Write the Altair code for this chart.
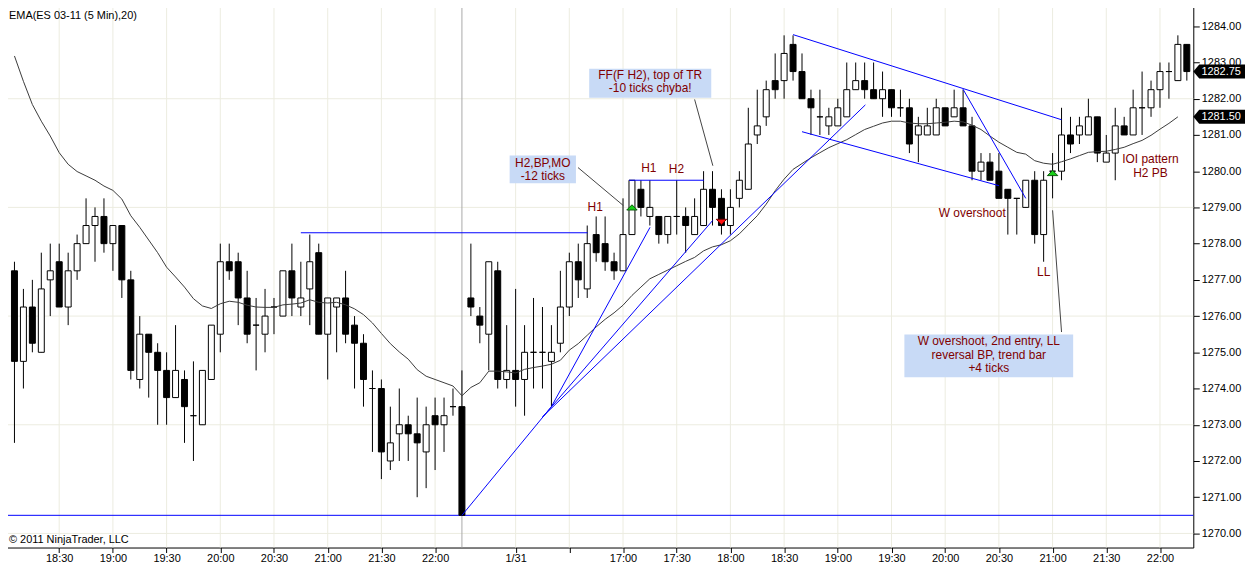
import altair as alt
import pandas as pd

FONT = "Liberation Sans"
MAROON = "#800000"

# ---------------- price bars (5-min, bar index 1..132) ----------------
bar_index = list(range(1, 133))
opens = [1277.25, 1274.75, 1276.25, 1275.0, 1277.0, 1277.5, 1276.25, 1277.25, 1278.0, 1278.5,
         1278.75, 1278.0, 1278.5, 1277.0, 1274.25, 1275.5, 1275.0, 1274.5, 1273.75, 1274.25,
         1273.25, 1273.0, 1274.25, 1275.5, 1277.5, 1277.5, 1276.5, 1275.75, 1275.5, 1276.25,
         1276.0, 1277.25, 1276.25, 1276.75, 1277.75, 1275.5, 1276.25, 1276.5, 1275.75, 1275.25,
         1274.0, 1274.0, 1272.0, 1272.75, 1273.0, 1272.75, 1272.25, 1273.25, 1273.0, 1273.5,
         1273.5, 1276.5, 1276.0, 1275.5, 1277.25, 1274.25, 1274.5, 1274.25, 1275.0, 1275.0,
         1274.75, 1275.25, 1276.25, 1277.5, 1276.75, 1278.25, 1278.0, 1277.5, 1277.25, 1278.25,
         1279.5, 1278.75, 1278.75, 1278.25, 1278.75, 1278.75, 1278.25, 1278.5, 1279.5, 1279.25,
         1278.5, 1279.25, 1279.5, 1281.0, 1281.5, 1282.5, 1282.5, 1283.5, 1282.75, 1282.0,
         1281.5, 1281.25, 1281.25, 1281.5, 1282.25, 1282.5, 1282.25, 1282.0, 1282.25, 1281.75,
         1281.75, 1281.0, 1281.0, 1281.0, 1281.75, 1281.5, 1281.75, 1281.25, 1280.0, 1280.25,
         1280.0, 1279.5, 1279.25, 1279.0, 1279.75, 1278.25, 1280.0, 1280.0, 1281.0, 1281.0,
         1281.0, 1281.5, 1280.25, 1280.5, 1281.25, 1281.0, 1281.75, 1281.75, 1282.25, 1282.75,
         1282.5, 1283.5]
highs = [1277.5, 1276.75, 1277.0, 1277.75, 1278.0, 1278.0, 1277.75, 1278.25, 1279.25, 1279.0,
         1279.25, 1278.5, 1278.5, 1277.25, 1276.0, 1275.5, 1275.25, 1275.0, 1275.75, 1274.5,
         1274.75, 1274.5, 1275.75, 1278.0, 1278.0, 1277.75, 1277.25, 1276.5, 1276.75, 1276.5,
         1277.25, 1278.0, 1277.5, 1278.25, 1278.0, 1276.5, 1276.5, 1277.25, 1276.0, 1275.5,
         1274.5, 1274.25, 1273.5, 1274.0, 1273.25, 1273.75, 1273.5, 1273.75, 1273.75, 1274.0,
         1274.5, 1278.0, 1276.25, 1277.5, 1277.5, 1275.75, 1276.75, 1275.75, 1276.5, 1276.25,
         1275.75, 1277.25, 1277.75, 1278.0, 1278.5, 1278.75, 1278.75, 1277.75, 1279.25, 1279.75,
         1279.75, 1279.75, 1278.75, 1278.75, 1279.75, 1279.0, 1279.25, 1280.0, 1280.0, 1279.5,
         1279.5, 1280.0, 1281.75, 1282.25, 1282.5, 1283.25, 1283.75, 1283.75, 1283.25, 1282.25,
         1282.25, 1281.75, 1282.0, 1283.0, 1283.0, 1283.0, 1283.0, 1282.75, 1282.25, 1282.25,
         1282.0, 1281.5, 1281.75, 1282.0, 1281.75, 1282.25, 1282.25, 1281.5, 1280.5, 1280.5,
         1280.5, 1279.5, 1279.25, 1279.75, 1280.0, 1280.0, 1280.5, 1281.75, 1281.5, 1281.5,
         1282.0, 1281.5, 1281.0, 1281.75, 1281.5, 1282.25, 1282.75, 1282.5, 1283.0, 1283.0,
         1283.75, 1283.5]
lows = [1272.5, 1274.0, 1275.0, 1275.0, 1276.0, 1276.25, 1275.75, 1277.0, 1278.0, 1277.5,
        1277.75, 1277.25, 1276.5, 1274.25, 1274.0, 1273.75, 1273.0, 1273.0, 1273.75, 1272.5,
        1272.0, 1273.0, 1274.25, 1275.0, 1277.0, 1275.75, 1275.25, 1274.5, 1275.0, 1275.5,
        1276.0, 1276.0, 1276.0, 1275.75, 1275.5, 1274.25, 1275.0, 1275.25, 1274.0, 1273.5,
        1272.25, 1271.5, 1271.75, 1272.0, 1272.0, 1271.0, 1271.25, 1271.75, 1272.25, 1273.25,
        1270.5, 1276.0, 1275.25, 1274.5, 1274.0, 1274.0, 1273.5, 1273.25, 1274.0, 1274.0,
        1273.5, 1275.0, 1276.0, 1276.5, 1276.5, 1277.5, 1277.25, 1277.0, 1277.25, 1278.25,
        1278.75, 1278.5, 1278.0, 1278.0, 1278.25, 1277.75, 1278.25, 1278.5, 1278.5, 1278.25,
        1278.25, 1279.0, 1279.5, 1280.75, 1281.25, 1282.0, 1282.0, 1282.5, 1282.0, 1281.0,
        1281.0, 1281.0, 1281.25, 1281.5, 1282.25, 1282.0, 1282.0, 1281.5, 1281.5, 1281.5,
        1280.5, 1280.25, 1281.0, 1281.0, 1281.25, 1281.5, 1281.25, 1279.75, 1279.75, 1279.75,
        1279.25, 1278.25, 1278.25, 1279.0, 1278.0, 1277.5, 1279.25, 1279.75, 1280.5, 1280.75,
        1281.0, 1280.25, 1280.25, 1279.75, 1281.0, 1281.0, 1281.0, 1281.5, 1281.75, 1282.0,
        1282.5, 1282.5]
closes = [1274.75, 1276.25, 1275.25, 1276.75, 1277.25, 1276.25, 1277.25, 1278.0, 1278.5, 1278.75,
          1278.0, 1278.5, 1277.0, 1274.5, 1275.5, 1275.0, 1274.5, 1273.75, 1274.5, 1273.5,
          1273.25, 1274.5, 1275.75, 1277.5, 1277.25, 1276.5, 1275.5, 1275.75, 1276.0, 1276.25,
          1277.25, 1276.5, 1276.5, 1277.5, 1275.5, 1276.5, 1276.5, 1275.5, 1275.25, 1274.25,
          1274.0, 1272.25, 1272.5, 1273.0, 1272.75, 1272.5, 1273.0, 1273.0, 1273.25, 1273.5,
          1270.5, 1276.25, 1275.75, 1277.5, 1274.25, 1274.5, 1274.25, 1275.0, 1275.0, 1275.0,
          1275.0, 1276.25, 1277.5, 1277.0, 1278.0, 1277.75, 1277.5, 1277.25, 1278.25, 1279.75,
          1279.0, 1279.0, 1278.25, 1278.75, 1278.75, 1278.5, 1278.75, 1279.5, 1279.0, 1278.5,
          1279.0, 1279.75, 1280.75, 1281.25, 1282.25, 1282.25, 1283.25, 1282.75, 1282.0, 1281.75,
          1281.5, 1281.5, 1281.75, 1282.25, 1282.5, 1282.25, 1282.0, 1282.25, 1281.75, 1281.75,
          1280.75, 1281.25, 1281.25, 1281.75, 1281.25, 1281.75, 1281.25, 1280.0, 1280.25, 1279.75,
          1279.25, 1279.25, 1279.25, 1279.75, 1278.25, 1279.75, 1280.0, 1281.0, 1280.75, 1281.25,
          1281.5, 1280.5, 1280.5, 1281.25, 1281.0, 1281.75, 1281.75, 1282.25, 1282.75, 1282.75,
          1283.5, 1282.75]

# EMA(20), bars 1..131
ema_values = [1283.18, 1282.48, 1281.84, 1281.38, 1280.97, 1280.51, 1280.19, 1279.99, 1279.87, 1279.75,
              1279.59, 1279.47, 1279.23, 1278.77, 1278.45, 1278.10, 1277.75, 1277.35, 1277.08, 1276.80,
              1276.48, 1276.28, 1276.21, 1276.34, 1276.41, 1276.38, 1276.30, 1276.25, 1276.24, 1276.24,
              1276.31, 1276.33, 1276.36, 1276.45, 1276.38, 1276.36, 1276.38, 1276.31, 1276.20, 1276.04,
              1275.81, 1275.52, 1275.24, 1275.01, 1274.81, 1274.52, 1274.34, 1274.25, 1274.16, 1274.07,
              1273.80, 1274.03, 1274.16, 1274.48, 1274.48, 1274.46, 1274.43, 1274.53, 1274.58, 1274.62,
              1274.67, 1274.78, 1275.06, 1275.24, 1275.47, 1275.70, 1275.91, 1276.09, 1276.30, 1276.57,
              1276.80, 1277.03, 1277.15, 1277.27, 1277.39, 1277.51, 1277.62, 1277.80, 1277.91, 1277.97,
              1278.08, 1278.27, 1278.52, 1278.77, 1279.09, 1279.46, 1279.78, 1280.05, 1280.21, 1280.37,
              1280.51, 1280.65, 1280.76, 1280.87, 1281.01, 1281.15, 1281.24, 1281.33, 1281.38, 1281.38,
              1281.33, 1281.31, 1281.31, 1281.33, 1281.35, 1281.38, 1281.36, 1281.27, 1281.15, 1280.97,
              1280.80, 1280.66, 1280.52, 1280.47, 1280.29, 1280.22, 1280.19, 1280.26, 1280.34, 1280.43,
              1280.52, 1280.54, 1280.55, 1280.60, 1280.66, 1280.76, 1280.85, 1280.99, 1281.16, 1281.32,
              1281.50]

# ---------------- axes ----------------
tick_bars = [6, 12, 18, 24, 30, 36, 42, 48, 57, 63, 69, 75, 81, 87, 93, 99, 105, 111, 117, 123, 129]
tick_labels = ["18:30", "19:00", "19:30", "20:00", "20:30", "21:00", "21:30", "22:00", "1/31", "",
               "17:00", "17:30", "18:00", "18:30", "19:00", "19:30", "20:00", "20:30", "21:00",
               "21:30", "22:00"]
price_ticks = list(range(1270, 1285))
price_grid = [1270, 1273, 1276, 1279, 1282]
session_break = [51]

# ---------------- drawn objects (bar index, price) ----------------
hline_price = [1270.5]
blue_i1 = [33.0, 69.67, 51.0, 59.97, 60.08, 61.02, 88.0, 89.0, 107.0]
blue_p1 = [1278.3, 1279.75, 1270.5, 1273.21, 1273.23, 1273.51, 1283.77, 1281.09, 1282.26]
blue_i2 = [65.04, 78.04, 61.0, 96.08, 79.02, 72.02, 118.0, 111.0, 114.0]
blue_p2 = [1278.3, 1279.75, 1273.5, 1281.83, 1278.64, 1278.45, 1281.42, 1279.60, 1279.25]

conn_i1 = [63.97, 77.0, 117.0]
conn_p1 = [1280.10, 1281.98, 1278.92]
conn_i2 = [69.04, 79.04, 118.0]
conn_p2 = [1279.05, 1280.15, 1275.56]

box_i1 = [56.33, 65.22, 100.44]
box_p1 = [1280.43, 1282.83, 1275.49]
box_i2 = [63.74, 78.86, 119.30]
box_p2 = [1279.67, 1282.03, 1274.31]

note_text = ["H2,BP,MO", "-12 ticks", "FF(F H2), top of TR", "-10 ticks chyba!",
             "W overshoot, 2nd entry, LL", "reversal BP, trend bar", "+4 ticks",
             "H1", "H1", "H2", "W overshoot", "LL", "IOI pattern", "H2 PB"]
note_i = [60.04, 60.04, 72.04, 72.04, 109.87, 109.87, 109.87,
          65.89, 71.89, 74.97, 108.02, 116.0, 127.93, 127.93]
note_p = [1280.23, 1279.87, 1282.65, 1282.30, 1275.30, 1274.92, 1274.57,
          1279.01, 1280.10, 1280.06, 1278.85, 1277.21, 1280.33, 1279.95]

up_marks_i = [70, 117]
up_marks_p = [1279.0, 1279.95]
down_marks_i = [80]
down_marks_p = [1278.6]

tag_prices = [1282.75, 1281.50]
tag_texts = ["1282.75", "1281.50"]

# ---------------- chart ----------------
W, H = 1200, 549
x0 = 1 - 14.5 / 9
xs = alt.Scale(domain=[x0, x0 + W / 9], nice=False, zero=False)
ys = alt.Scale(domain=[1269.611, 1284.681], nice=False, zero=False)

label_expr = "[{}][indexof([{}], datum.value)]".format(
    ",".join("'" + t + "'" for t in tick_labels), ",".join(str(t) for t in tick_bars))

x_axis = alt.Axis(values=tick_bars, labelExpr=label_expr, title=None, grid=False,
                  domainColor="black", tickColor="black", tickSize=5, labelPadding=0,
                  labelFont=FONT, labelFontSize=11, labelColor="black",
                  labelFlush=False, labelOverlap=False, orient="bottom", zindex=0)
y_axis = alt.Axis(values=price_ticks, format=".2f", title=None, grid=False, orient="right",
                  domainColor="black", tickColor="black", tickSize=6, labelPadding=2,
                  labelFont=FONT, labelFontSize=11, labelColor="black",
                  labelFlush=False, labelOverlap=False, zindex=0)


def X(f):
    return alt.X(f, type="quantitative", scale=xs, axis=x_axis)


def Y(f):
    return alt.Y(f, type="quantitative", scale=ys, axis=y_axis)


GRID = "#ECECE0"

hgrid = alt.Chart(pd.DataFrame({"p": price_grid})).mark_rule(color=GRID, strokeWidth=1).encode(y=Y("p"))
vgrid = alt.Chart(pd.DataFrame({"i": tick_bars})).mark_rule(color=GRID, strokeWidth=1).encode(x=X("i"))
sess = alt.Chart(pd.DataFrame({"i": session_break})).mark_rule(color="#A8A8A8", strokeWidth=1).encode(x=X("i"))

bars = pd.DataFrame({"i": bar_index, "o": opens, "h": highs, "l": lows, "c": closes})
wicks = alt.Chart(bars).mark_rule(color="black", strokeWidth=1).encode(
    x=X("i"), y=Y("l"), y2="h")
bodies = alt.Chart(bars).transform_calculate(
    xl="datum.i - 1/3", xr="datum.i + 1/3"
).mark_rect(stroke="black", strokeWidth=1).encode(
    x=X("xl"), x2="xr", y=Y("o"), y2="c",
    fill=alt.condition("datum.c >= datum.o", alt.value("white"), alt.value("black")))

ema_df = pd.DataFrame({"i": bar_index[:len(ema_values)], "e": ema_values})
ema = alt.Chart(ema_df).mark_line(color="#3a3a3a", strokeWidth=1).encode(x=X("i"), y=Y("e"))

hline = alt.Chart(pd.DataFrame({"p": hline_price})).mark_rule(color="#0000FF", strokeWidth=1).encode(y=Y("p"))
blue = alt.Chart(pd.DataFrame({"a": blue_i1, "b": blue_p1, "c": blue_i2, "d": blue_p2})).mark_rule(
    color="#0000FF", strokeWidth=1).encode(x=X("a"), y=Y("b"), x2="c", y2="d")
conn = alt.Chart(pd.DataFrame({"a": conn_i1, "b": conn_p1, "c": conn_i2, "d": conn_p2})).mark_rule(
    color="#444444", strokeWidth=1).encode(x=X("a"), y=Y("b"), x2="c", y2="d")

boxes = alt.Chart(pd.DataFrame({"a": box_i1, "b": box_p1, "c": box_i2, "d": box_p2})).mark_rect(
    fill="#C8DAF6").encode(x=X("a"), y=Y("b"), x2="c", y2="d")
notes = alt.Chart(pd.DataFrame({"i": note_i, "p": note_p, "t": note_text})).mark_text(
    font=FONT, fontSize=12, color=MAROON, align="center", baseline="middle").encode(
    x=X("i"), y=Y("p"), text="t")

up = alt.Chart(pd.DataFrame({"i": up_marks_i, "p": up_marks_p})).mark_point(
    shape="M-1,0.5L0,-0.5L1,0.5Z", size=110, filled=True, fill="#19D019",
    stroke="#0A5A0A", strokeWidth=1, opacity=1).encode(x=X("i"), y=Y("p"))
down = alt.Chart(pd.DataFrame({"i": down_marks_i, "p": down_marks_p})).mark_point(
    shape="M-1,-0.5L0,0.5L1,-0.5Z", size=110, filled=True, fill="#FF1010",
    stroke="#700000", strokeWidth=1, opacity=1).encode(x=X("i"), y=Y("p"))

tags_df = pd.DataFrame({"p": tag_prices, "t": tag_texts})
tag_shape = alt.Chart(tags_df).mark_point(
    shape="M-1,0L-0.77,-0.27L1,-0.27L1,0.27L-0.77,0.27Z", size=2704, filled=True,
    fill="black", strokeWidth=0, opacity=1).encode(x=alt.value(1226), y=Y("p"))
tag_text = alt.Chart(tags_df).mark_text(
    font=FONT, fontSize=11, color="white", align="center", baseline="middle").encode(
    x=alt.value(1228), y=Y("p"), text="t")

header = alt.Chart(pd.DataFrame({"t": ["EMA(ES 03-11 (5 Min),20)"]})).mark_text(
    font=FONT, fontSize=11, color="black", align="left", baseline="middle").encode(
    x=alt.value(9), y=alt.value(14.5), text="t")
copyright_txt = alt.Chart(pd.DataFrame({"t": ["\u00a9 2011 NinjaTrader, LLC"]})).mark_text(
    font=FONT, fontSize=11, color="black", align="left", baseline="middle").encode(
    x=alt.value(9), y=alt.value(541), text="t")

chart = alt.layer(
    hgrid, vgrid, sess, hline, wicks, bodies, ema, blue, conn, up, down,
    boxes, notes, tag_shape, tag_text, header, copyright_txt
).properties(
    width=W, height=H,
    autosize=alt.AutoSizeParams(type="none"),
    padding={"left": -8, "top": -8, "right": 52, "bottom": 15},
    background="white",
).configure_view(strokeWidth=0)

chart.save("out.html", embed_options={"renderer": "svg", "actions": False})
